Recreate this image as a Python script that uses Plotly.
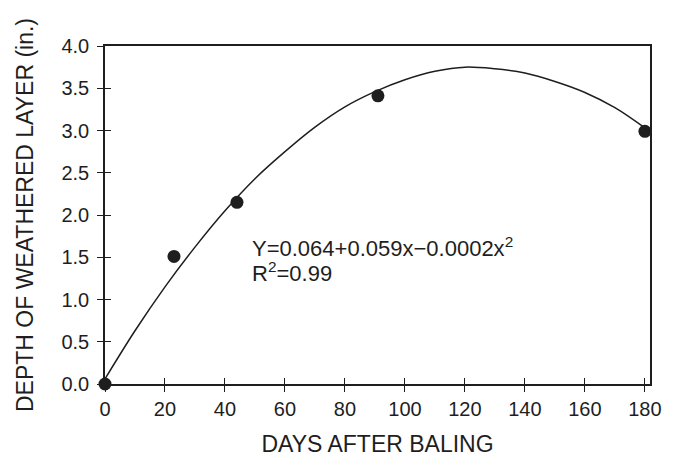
import plotly.graph_objects as go

# Observed data (days after baling, depth of weathered layer in inches)
days_obs = [0, 23, 44, 91, 180]
depth_obs = [0.0, 1.51, 2.15, 3.41, 2.99]

# Fitted curve
days_fit = [0, 10, 20, 30, 40, 50, 60, 70, 80, 90, 100, 110, 120, 130, 140, 150, 160, 170, 180]
depth_fit = [0.06, 0.63, 1.15, 1.62, 2.05, 2.43, 2.75, 3.04, 3.28, 3.46, 3.60, 3.70, 3.75, 3.73,
             3.68, 3.58, 3.45, 3.27, 3.03]

x_ticks = [0, 20, 40, 60, 80, 100, 120, 140, 160, 180]
y_ticks = [0.0, 0.5, 1.0, 1.5, 2.0, 2.5, 3.0, 3.5, 4.0]
y_tick_labels = ["0.0", "0.5", "1.0", "1.5", "2.0", "2.5", "3.0", "3.5", "4.0"]

eq_line1 = "Y=0.064+0.059x\u22120.0002x<sup>2</sup>"
eq_line2 = "R<sup>2</sup>=0.99"
x_title = "DAYS AFTER BALING"
y_title = "DEPTH OF WEATHERED LAYER (in.)"

ink = "#1e1e1e"
font_family = "Liberation Sans, Arial, sans-serif"

fig = go.Figure()
fig.add_trace(go.Scatter(x=days_fit, y=depth_fit, mode="lines",
                         line=dict(color=ink, width=1.5, shape="spline", smoothing=1.0),
                         hoverinfo="skip", showlegend=False))
fig.add_trace(go.Scatter(x=days_obs, y=depth_obs, mode="markers",
                         marker=dict(color=ink, size=13),
                         cliponaxis=False, showlegend=False))
# invisible trace to anchor the overlay axes (inside tick halves)
fig.add_trace(go.Scatter(x=[0], y=[0], xaxis="x2", yaxis="y2", mode="markers",
                         marker=dict(opacity=0), hoverinfo="skip", showlegend=False))

xrange = [0, 181.7]
yrange = [0, 4.0]

fig.update_layout(
    width=678, height=461,
    margin=dict(l=97, r=36, t=38, b=85),
    paper_bgcolor="white", plot_bgcolor="white",
    font=dict(family=font_family, color=ink),
    xaxis=dict(range=xrange, tickvals=x_ticks, ticks="outside", ticklen=6, tickwidth=1.3,
               tickcolor=ink, showline=True, linecolor=ink, linewidth=1.5, mirror=True,
               showgrid=False, zeroline=False, tickfont=dict(size=20), automargin=False,
               title=dict(text=x_title, font=dict(size=23), standoff=17)),
    yaxis=dict(range=yrange, tickvals=y_ticks, ticktext=y_tick_labels, ticks="outside",
               ticklen=6, tickwidth=1.3, tickcolor=ink, showline=True, linecolor=ink,
               linewidth=1.5, mirror=True, showgrid=False, zeroline=False,
               tickfont=dict(size=20), ticklabelstandoff=4, automargin=False,
               title=dict(text=y_title, font=dict(size=23), standoff=21)),
    xaxis2=dict(range=xrange, overlaying="x", side="bottom", tickvals=x_ticks, ticks="inside",
                ticklen=6, tickwidth=1.3, tickcolor=ink, showticklabels=False,
                showgrid=False, zeroline=False, showline=False, automargin=False),
    yaxis2=dict(range=yrange, overlaying="y", side="left", tickvals=y_ticks, ticks="inside",
                ticklen=6, tickwidth=1.3, tickcolor=ink, showticklabels=False,
                showgrid=False, zeroline=False, showline=False, automargin=False),
    annotations=[
        dict(text=eq_line1, x=48.5, y=1.81, xref="x", yref="y", xanchor="left",
             yanchor="top", align="left", showarrow=False, font=dict(size=22, color=ink)),
        dict(text=eq_line2, x=48.5, y=1.515, xref="x", yref="y", xanchor="left",
             yanchor="top", align="left", showarrow=False, font=dict(size=22, color=ink)),
    ],
)

fig.write_html("out.html")
